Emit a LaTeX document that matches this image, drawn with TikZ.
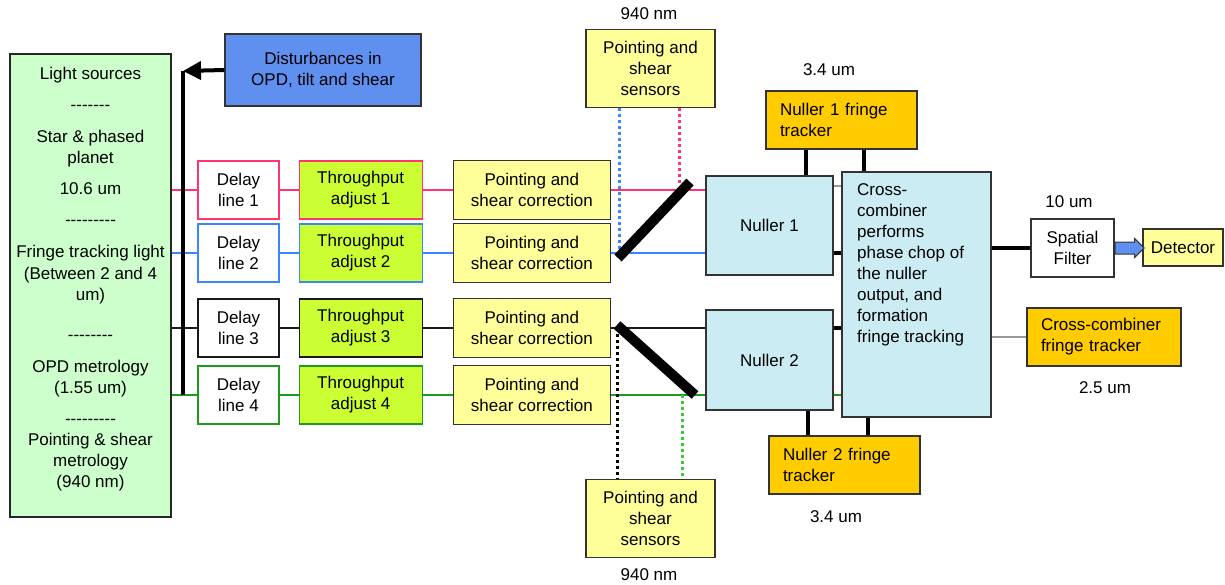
\documentclass[tikz,border=0pt]{standalone}
\usepackage{fontspec}
\setsansfont{Liberation Sans}
\usepackage{xcolor}
\usetikzlibrary{positioning, arrows.meta, shapes.arrows, calc}

\definecolor{srcgreen}{HTML}{CCFFCC}
\definecolor{distblue}{HTML}{5F8FEF}
\definecolor{tpgreen}{HTML}{CCFF33}
\definecolor{ptyellow}{HTML}{FFFF99}
\definecolor{nulblue}{HTML}{CCECF4}
\definecolor{trkorange}{HTML}{FFCC00}
\definecolor{beam1}{HTML}{FF3370}
\definecolor{beam2}{HTML}{3A86FF}
\definecolor{beam3}{HTML}{1A1A1A}
\definecolor{beam4}{HTML}{1E9A1E}
\definecolor{dotgreen}{HTML}{33CC33}
\definecolor{edge}{HTML}{333333}

\newcommand{\hyrow}[1]{\foreach \k in {1,...,#1}{\mbox{-}}}

\begin{document}
\begin{tikzpicture}[
  x=1pt, y=-1pt,
  every node/.style={font=\sffamily\fontsize{17}{21}\selectfont},
  >={Triangle[length=18pt, width=18pt]}
]
\tikzset{
  box/.style    ={draw=edge, line width=1.2pt, align=center, inner sep=2pt},
  dl/.style     ={box, fill=white, minimum width=81, minimum height=58},
  tp/.style     ={box, fill=tpgreen, minimum width=123, minimum height=58},
  pc/.style     ={box, fill=ptyellow, minimum width=157, minimum height=59},
  sensor/.style ={box, fill=ptyellow, minimum width=129, minimum height=78},
  nul/.style    ={box, fill=nulblue, minimum width=127, minimum height=99},
  trk/.style    ={box, fill=trkorange, align=left, inner xsep=14pt,
                  text width=123, minimum height=58},
  beam/.style   ={line width=2pt},
  bar/.style    ={line width=4pt, black},
  feed/.style   ={line width=2pt, black!40},
  probe/.style  ={line width=3pt, dash pattern=on 3pt off 3pt},
  mirror/.style ={line width=10pt, black},
  lab/.style    ={inner sep=0pt}
}
\useasboundingbox (0,0) rectangle (1225,584);

%% ----- Light sources and disturbances -----
\node[box, fill=srcgreen, draw=black!85, line width=1.5pt,
      minimum width=161, minimum height=463] (src) at (90.5,285.5) {};
\node[lab, align=center, anchor=north] (srctxt) at (90.5,67) {%
  Light sources\\[10pt]
  \hyrow{7}\\[11pt]
  Star \& phased\\planet\\[10pt]
  10.6 um\\[10pt]
  \hyrow{9}\\[11pt]
  Fringe tracking light\\[1pt]
  (Between 2 and 4\\um)\\[19pt]
  \hyrow{8}\\[11pt]
  OPD metrology\\(1.55 um)\\[10pt]
  \hyrow{9}\\
  Pointing \& shear\\metrology\\(940 nm)};
\node[box, fill=distblue, minimum width=196, minimum height=72] (dist)
  at (323,70) {Disturbances in\\OPD, tilt and shear};

%% ----- Four beam rows -----
\foreach \i/\y/\col in {1/190/beam1, 2/253/beam2, 3/328/beam3, 4/395/beam4} {
  \node[dl, draw=\col] (dl\i) at (238.5,\y) {Delay\\line \i};
  \node[tp, draw=\col, right=19pt of dl\i] (tp\i) {Throughput\\adjust \i};
  \node[pc, right=30pt of tp\i] (pc\i) {Pointing and\\shear correction};
  \draw[beam, \col] (src.east |- dl\i) -- (dl\i);
  \draw[beam, \col] (dl\i) -- (tp\i);
  \draw[beam, \col] (tp\i) -- (pc\i);
}

%% ----- Disturbance bus -----
\coordinate (bustop) at (183,71);
\draw[bar] (bustop) -- (bustop |- dl4);
\draw[bar, ->] (dist.west) -- (bustop);

%% ----- Nullers, sensors -----
\node[nul] (nul1) at (769.5,225.5) {Nuller 1};
\node[nul, minimum height=100] (nul2) at (769.5,360) {Nuller 2};
\node[sensor] (sen1) at (650.5,68.5) {Pointing and\\shear\\sensors};
\node[sensor] (sen2) at (650.5,518.5) {Pointing and\\shear\\sensors};
\node[lab] (nm1) at (649,14) {940 nm};
\node[lab] (nm2) at (649,575) {940 nm};

\draw[beam, beam1] (pc1) -- (pc1 -| nul1.west);
\draw[beam, beam2] (pc2) -- (pc2 -| nul1.west);
\draw[beam, beam3] (pc3) -- (pc3 -| nul2.west);
\draw[beam, beam4] (pc4) -- (pc4 -| nul2.west);

%% ----- Sensor probes and beam combining mirrors -----
\coordinate (p1) at (619,250);
\coordinate (p2) at (679,183);
\coordinate (p3) at (617,328);
\coordinate (p4) at (682,395);
\draw[probe, beam2] (p1 |- sen1.south) -- (p1);
\draw[probe, beam1] (p2 |- sen1.south) -- (p2);
\draw[probe, black] (p3) -- (p3 |- sen2.north);
\draw[probe, dotgreen] (p4) -- (p4 |- sen2.north);

\coordinate (m1a) at (618,258);
\coordinate (m1b) at (690,182);
\coordinate (m2a) at (617,325);
\coordinate (m2b) at (695,395);
\draw[mirror] (m1a) -- (m1b);
\draw[mirror] (m2a) -- (m2b);

%% ----- Cross-combiner and fringe trackers -----
\node[box, fill=nulblue, minimum width=149, minimum height=245] (cc)
  at (916.5,294.5) {};
\node[lab, anchor=north west, align=left] (cctxt) at (857,183)
  {Cross-\\combiner\\performs\\phase chop of\\the nuller\\output, and\\formation\\fringe tracking};

\node[trk] (trk1) at (841.5,120) {Nuller 1 fringe\\tracker};
\node[trk] (trk2) at (844.5,465) {Nuller 2 fringe\\tracker};
\node[trk, inner xsep=14pt, text width=126] (trk3) at (1104,337)
  {Cross-combiner\\fringe tracker};
\node[lab] (um1) at (829,70) {3.4 um};
\node[lab] (um2) at (836,517) {3.4 um};
\node[lab] (um3) at (1105,388) {2.5 um};

\draw[bar] ([xshift=36pt]nul1.north) -- ([xshift=36pt]nul1.north |- trk1.south);
\draw[bar] ([xshift=-53pt]cc.north) -- ([xshift=-53pt]cc.north |- trk1.south);
\draw[bar] ([xshift=38.5pt]nul2.south) -- ([xshift=38.5pt]nul2.south |- trk2.north);
\draw[bar] ([xshift=-48.5pt]cc.south) -- ([xshift=-48.5pt]cc.south |- trk2.north);

\draw[feed] ([yshift=40pt]nul1.east) -- ([yshift=40pt]nul1.east -| cc.west);
\draw[bar] (nul1.east |- pc2) -- (cc.west |- pc2);
\draw[bar] (nul2.east |- pc3) -- (cc.west |- pc3);
\draw[beam, beam4] (nul2.east |- pc4) -- (cc.west |- pc4);
\draw[feed] (cc.east |- trk3) -- (trk3.west);

%% ----- Output: spatial filter, detector -----
\node[box, fill=white, minimum width=83, minimum height=58] (sf)
  at (1072.5,248) {Spatial\\Filter};
\node[box, fill=ptyellow, minimum width=80, minimum height=37] (det)
  at (1183,247.5) {Detector};
\node[lab] (um4) at (1069,202) {10 um};
\draw[bar] (cc.east |- sf) -- (sf.west);
\node[single arrow, draw=edge, fill=distblue, line width=1pt,
      inner xsep=0pt, inner ysep=5.5pt, minimum height=29pt,
      single arrow head extend=3.5pt, anchor=tail] (fat) at (sf.east) {};

\end{tikzpicture}
\end{document}
